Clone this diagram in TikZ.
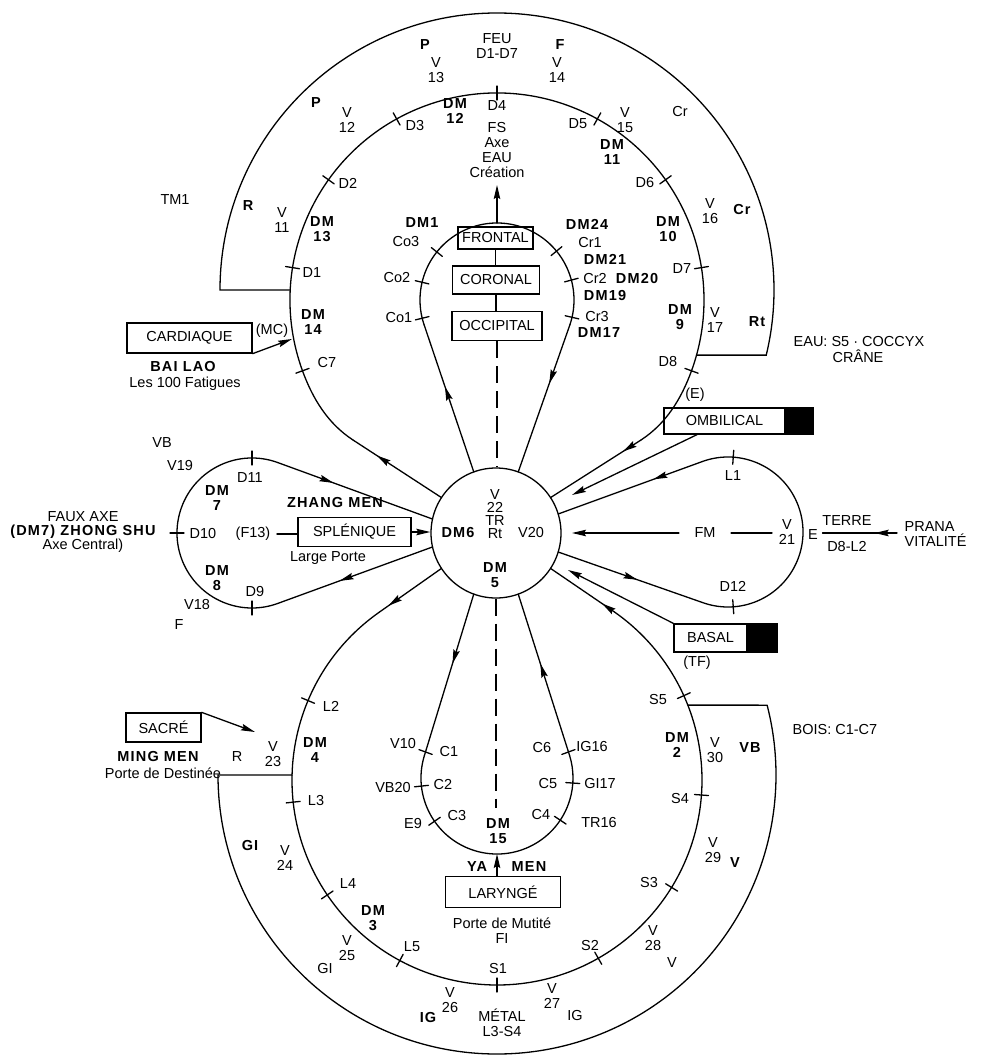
\documentclass[tikz,border=0pt]{standalone}
\usepackage{fontspec}
\setmainfont{Liberation Sans}
\usetikzlibrary{arrows.meta,decorations.markings,calc}
\newcommand\labfont{\fontsize{14.5}{15}\selectfont}
\newcommand\boldlab{\bfseries\addfontfeature{LetterSpace=8}}
\newcommand\mytick[4]{\draw ([shift={(#1,#2)}]#4:{#3-7}) -- ([shift={(#1,#2)}]#4:{#3+7});}
\begin{document}
\begin{tikzpicture}[x=1pt,y=-1pt,line width=1.3pt,line cap=round,
  arr/.tip={Stealth[length=14pt,width=6.5pt,inset=2pt]},
  lb/.style={font=\labfont,inner sep=0pt,align=center},
  bl/.style={font=\labfont\boldlab,inner sep=0pt,align=center},
  box/.style={draw,font=\labfont,inner sep=0pt},
  blk/.style={draw,fill=black,inner sep=0pt},
  dashline/.style={dash pattern=on 17pt off 8pt,line cap=butt},
  amark/.style={postaction={decorate},decoration={markings,mark=at position #1 with {\arrow{arr}}}}]
\useasboundingbox (0,0) rectangle (985,1056);

% ---------- central circle
\node[draw,circle,minimum size=130pt,inner sep=0pt] (core) at (496,533) {};
\coordinate (ptl) at ([shift={(496,533)}]213:65);
\coordinate (ptr) at ([shift={(496,533)}]327:65);
\coordinate (pcl) at ([shift={(496,533)}]250:65);
\coordinate (pcr) at ([shift={(496,533)}]290:65);
\coordinate (prU) at ([shift={(496,533)}]343:65);
\coordinate (prL) at ([shift={(496,533)}]17:65);
\coordinate (pbr) at ([shift={(496,533)}]33:65);
\coordinate (pbl) at ([shift={(496,533)}]147:65);
\coordinate (pvl) at ([shift={(496,533)}]110:65);
\coordinate (pvr) at ([shift={(496,533)}]70:65);
\coordinate (plU) at ([shift={(496,533)}]192.4:65);
\coordinate (plL) at ([shift={(496,533)}]167.6:65);

% ---------- top inner circle (D1-D8)
\coordinate (qtl) at (353,440);
\coordinate (qtr) at (641,440);
\coordinate (rtl) at ([shift={(497,300)}]160:207);
\draw[amark=0.73] (ptl) -- (qtl);
\draw (qtl) .. controls (327.9,423.6) and (312.8,399) .. (rtl)
  arc[start angle=160,end angle=380,radius=207]
  .. controls (681.2,399) and (666.1,423.6) .. (qtr);
\draw[amark=0.2] (qtr) -- (ptr);
\foreach \a in {189,215.5,241,270,299,324.5,351,20,160} {\mytick{497}{300}{207}{\a}}

% top outer arc
\coordinate (ht1) at (290.2,290);
\coordinate (ht2) at (220,290);
\coordinate (ht4) at (696.5,355.1);
\draw (ht1) -- (ht2) arc[start angle=180,end angle=373.6,radius=277] -- (ht4);

% ---------- cranial loop
\coordinate (tcl) at ([shift={(497,300)}]161.3:77);
\coordinate (tcr) at ([shift={(497,300)}]18.7:77);
\coordinate (ctop) at (497,223);
\coordinate (ctip) at (497,185);
\draw[amark=0.58] (pcl) -- (tcl);
\draw (tcl) arc[start angle=161.3,end angle=378.7,radius=77];
\draw[amark=0.4] (tcr) -- (pcr);
\draw[-{arr}] (ctop) -- (ctip);
\foreach \a in {218.6,193.3,166.3,320.6,345,13} {\mytick{497}{300}{77}{\a}}
\node[box,minimum width=75pt,minimum height=22pt] (front) at (495.5,238) {FRONTAL};
\node[box,minimum width=87pt,minimum height=28pt] (coro) at (496,280) {CORONAL};
\node[box,minimum width=90pt,minimum height=29pt] (occ) at (497,326) {OCCIPITAL};
\draw (front.south) -- (front.south |- coro.north);
\draw (coro.south) -- (coro.south |- occ.north);
\draw[dashline] (occ.south) -- (occ.south |- core.north);

% ---------- bottom inner circle (L2-S5)
\coordinate (tbl) at ([shift={(497,780)}]234.86:205);
\coordinate (tbr) at ([shift={(497,780)}]305.14:205);
\draw[amark=0.85] (pbl) -- (tbl);
\draw (tbl) arc[start angle=234.86,end angle=-54.86,radius=205];
\draw[amark=0.2] (tbr) -- (pbr);
\foreach \a in {202.8,173.8,145.9,118.3,90,60.4,31.6,4.2,-24.3} {\mytick{497}{780}{205}{\a}}
% bottom outer arc
\coordinate (hb1) at (292.1,775);
\coordinate (hb2) at (218,775);
\coordinate (hb4) at (687.8,705.1);
\draw (hb1) -- (hb2) arc[start angle=180,end angle=-14.5,radius=279] -- (hb4);

% ---------- cervical loop
\coordinate (tvl) at ([shift={(497,778)}]197:76);
\coordinate (tvr) at ([shift={(497,778)}]-17:76);
\coordinate (cvbot) at (497,854);
\draw[amark=0.43] (pvl) -- (tvl);
\draw (tvl) arc[start angle=197,end angle=-17,radius=76];
\draw[amark=0.57] (tvr) -- (pvr);
\foreach \a in {200,173.9,145.3,33.7,3.8,-20} {\mytick{497}{778}{76}{\a}}

% ---------- left loop (D9-D11)
\coordinate (tlU) at ([shift={(252,533)}]290:75);
\coordinate (tlL) at ([shift={(252,533)}]70:75);
\draw[amark=0.36] (tlU) -- (plU);
\draw (tlU) arc[start angle=290,end angle=70,radius=75];
\draw[amark=0.6] (plL) -- (tlL);
\foreach \a in {270,180,90} {\mytick{252}{533}{75}{\a}}

% ---------- right loop (D12-L1)
\coordinate (trU) at ([shift={(728,532)}]250:75);
\coordinate (trL) at ([shift={(728,532)}]110:75);
\draw[amark=0.34] (trU) -- (prU);
\draw (trU) arc[start angle=250,end angle=470,radius=75];
\draw[amark=0.55] (prL) -- (trL);
\foreach \a in {274,86} {\mytick{728}{532}{75}{\a}}

% ---------- boxes
\node[box,minimum width=125pt,minimum height=30pt] (card) at (189.5,338) {CARDIAQUE};
\node[box,minimum width=113pt,minimum height=29pt] (splen) at (354.5,532) {SPLÉNIQUE};
\node[box,minimum width=121pt,minimum height=26pt] (omb) at (724.5,421) {OMBILICAL};
\node[blk,minimum width=27pt,minimum height=26pt,anchor=west] (ombk) at (omb.east) {};
\node[box,minimum width=73pt,minimum height=28pt] (basal) at (710.5,638) {BASAL};
\node[blk,minimum width=29pt,minimum height=28pt,anchor=west] (bask) at (basal.east) {};
\node[box,minimum width=75pt,minimum height=29pt] (sacre) at (163.5,727.5) {SACRÉ};
\node[box,minimum width=115pt,minimum height=31pt] (lar) at (503,892) {LARYNGÉ};

% ---------- top labels
\node[lb] (feu) at (497,46) {FEU\\D1-D7};
\node[bl] (pA) at (425,45) {P};
\node[lb] (v13) at (436,70) {V\\13};
\node[bl] (fA) at (560,45) {F};
\node[lb] (v14) at (557,70) {V\\14};
\node[bl] (pB) at (316,103) {P};
\node[lb] (v12) at (347,120) {V\\12};
\node[lb] (d3) at (415,126) {D3};
\node[bl] (dm12) at (455,111) {DM\\12};
\node[lb] (d4) at (497,106) {D4};
\node[lb] (fs) at (497,150) {FS\\Axe\\EAU\\Création};
\node[lb] (d5) at (578,124) {D5};
\node[lb] (v15) at (625,120) {V\\15};
\node[lb] (crA) at (680,112) {Cr};
\node[bl] (dm11) at (612,152) {DM\\11};
\node[lb] (d2) at (348,183) {D2};
\node[lb] (d6) at (645,183) {D6};
\node[lb] (tm1) at (175,200) {TM1};
\node[bl] (rA) at (248,206) {R};
\node[lb] (v11) at (282,220) {V\\11};
\node[bl] (dm13) at (322,229) {DM\\13};
\node[bl] (dm10) at (668,229) {DM\\10};
\node[lb] (v16) at (710,211) {V\\16};
\node[bl] (crB) at (742,210) {Cr};
\node[lb] (d1) at (312,273) {D1};
\node[lb] (d7) at (682,269) {D7};
\node[bl] (dm14) at (313,322) {DM\\14};
\node[lb] (mc) at (272,331) {(MC)};
\node[lb] (c7) at (327,363) {C7};
\node[bl] (dm9) at (680,317) {DM\\9};
\node[lb] (v17) at (715,320) {V\\17};
\node[bl] (rt) at (757,322) {Rt};
\node[lb] (d8) at (668,362) {D8};
\node[lb] (eA) at (695,395) {(E)};
\node[lb,anchor=west] (eau) at (793,342) {EAU: S5 · COCCYX};
\node[lb,anchor=west] (crane) at (832,356) {CRÂNE};
\node[bl] (bailao) at (183,367) {BAI LAO};
\node[lb] (fatig) at (185,384) {Les 100 Fatigues};
\coordinate (mcend) at (292,339);
\draw[-{arr}] (card.south east) -- (mcend);

% cranial labels
\node[bl] (dm1) at (422,223) {DM1};
\node[lb] (co3) at (406,242) {Co3};
\node[lb] (co2) at (397,278) {Co2};
\node[lb] (co1) at (399,318) {Co1};
\node[bl] (dm24) at (587,224) {DM24};
\node[lb] (cr1) at (590,243) {Cr1};
\node[bl] (dm21) at (605,259) {DM21};
\node[lb] (cr2) at (595,279) {Cr2};
\node[bl] (dm20) at (637,279) {DM20};
\node[bl] (dm19) at (605,296) {DM19};
\node[lb] (cr3) at (597,317) {Cr3};
\node[bl] (dm17) at (599,333) {DM17};

% core labels
\node[lb,font=\fontsize{14.5}{13}\selectfont] (v22) at (495,514) {V\\22\\TR\\Rt};
\node[bl] (dm6) at (458,533) {DM6};
\node[lb] (v20) at (531,533) {V20};
\node[bl] (dm5) at (495,575) {DM\\5};

% left loop labels
\node[lb] (vbA) at (162,443) {VB};
\node[lb] (v19) at (180,466) {V19};
\node[lb] (d11) at (250,478) {D11};
\node[bl] (dm7) at (217,498) {DM\\7};
\node[lb] (d10) at (203,534) {D10};
\node[lb,font=\fontsize{14.5}{14}\selectfont] (faux) at (83,532) {FAUX AXE\\{\boldlab (DM7) ZHONG SHU}\\Axe Central)};
\node[lb,inner xsep=6pt] (f13) at (253,534) {(F13)};
\node[bl] (zhang) at (335,503) {ZHANG MEN};
\node[lb] (large) at (328,558) {Large Porte};
\node[bl] (dm8) at (217,578) {DM\\8};
\node[lb] (d9) at (255,592) {D9};
\node[lb] (v18) at (197,605) {V18};
\node[lb] (fB) at (179,625) {F};
\draw (f13.east) -- (f13.east -| splen.west);
\draw[-{arr}] (splen.east) -- (splen.east -| core.west);

% right loop labels
\node[lb] (l1) at (733,476) {L1};
\node[lb] (d12) at (733,586) {D12};
\node[lb,inner xsep=15pt] (fm) at (705,533) {FM};
\node[lb] (v21) at (787,532) {V\\21};
\node[lb,inner xsep=4pt] (eB) at (813,535) {E};
\node[lb] (terre) at (847,521) {TERRE};
\node[lb] (d8l2) at (847,547) {D8-L2};
\node[lb,anchor=west,align=left] (prana) at (904,534) {PRANA\\VITALITÉ};
\coordinate (fms) at (772,533);
\coordinate (fmend) at (572,533);
\draw (fms) -- (fm.east);
\draw[-{arr}] (fm.west) -- (fmend);
\coordinate (terR) at (897,533);
\draw[amark=0.3] (terR) -- (terR -| eB.east);
\coordinate (ombend) at (572,495);
\draw[-{arr}] ([xshift=-27.5pt]omb.south) -- (ombend);
\coordinate (basend) at (568,570);
\draw[-{arr}] (basal.north west) -- (basend);
\node[lb] (tf) at (697,663) {(TF)};
\node[lb,anchor=west] (bois) at (792,730) {BOIS: C1-C7};

% bottom labels
\node[bl] (ming) at (158,757) {MING MEN};
\node[lb] (destin) at (163,773) {Porte de Destinée};
\coordinate (sacend) at (255,732);
\draw[-{arr}] (sacre.north east) -- (sacend);
\node[lb] (rB) at (237,757) {R};
\node[lb] (v23) at (273,754) {V\\23};
\node[bl] (dm4) at (315,750) {DM\\4};
\node[lb] (l2) at (331,706) {L2};
\node[lb] (l3) at (316,800) {L3};
\node[bl] (giA) at (250,845) {GI};
\node[lb] (v24) at (285,858) {V\\24};
\node[lb] (l4) at (348,884) {L4};
\node[bl] (dm3) at (373,918) {DM\\3};
\node[lb] (v25) at (347,948) {V\\25};
\node[lb] (giB) at (325,968) {GI};
\node[lb] (l5) at (412,947) {L5};
\node[lb] (s1) at (498,968) {S1};
\node[lb] (v26) at (450,1000) {V\\26};
\node[bl] (igA) at (428,1017) {IG};
\node[lb] (metal) at (502,1023) {MÉTAL\\L3-S4};
\node[lb] (v27) at (552,996) {V\\27};
\node[lb] (igB) at (575,1015) {IG};
\node[lb] (s2) at (590,945) {S2};
\node[lb] (v28) at (653,938) {V\\28};
\node[lb] (vC) at (672,963) {V};
\node[lb] (s3) at (649,882) {S3};
\node[lb] (v29) at (713,850) {V\\29};
\node[bl] (vD) at (735,863) {V};
\node[lb] (s4) at (680,798) {S4};
\node[bl] (dm2) at (677,745) {DM\\2};
\node[lb] (v30) at (715,750) {V\\30};
\node[bl] (vbB) at (750,748) {VB};
\node[lb] (s5) at (658,700) {S5};

% cervical labels
\node[lb] (v10) at (403,744) {V10};
\node[lb] (c1) at (449,752) {C1};
\node[lb] (vb20) at (393,787) {VB20};
\node[lb] (c2) at (443,784) {C2};
\node[lb] (e9) at (413,823) {E9};
\node[lb] (c3) at (457,815) {C3};
\node[lb] (c6) at (542,748) {C6};
\node[lb] (ig16) at (592,747) {IG16};
\node[lb] (c5) at (548,783) {C5};
\node[lb] (gi17) at (600,783) {GI17};
\node[lb] (c4) at (541,814) {C4};
\node[lb] (tr16) at (599,822) {TR16};
\node[bl] (dm15) at (498,831) {DM\\15};
\node[bl] (ya) at (477,867) {YA};
\node[bl] (men) at (529,867) {MEN};
\node[lb] (mutite) at (502,931) {Porte de Mutité\\FI};
\draw[dashline] (core.south) -- ([yshift=10pt]dm15.north -| core.south);
\draw[-{arr}] (lar.north -| cvbot) -- (cvbot);
\end{tikzpicture}
\end{document}
